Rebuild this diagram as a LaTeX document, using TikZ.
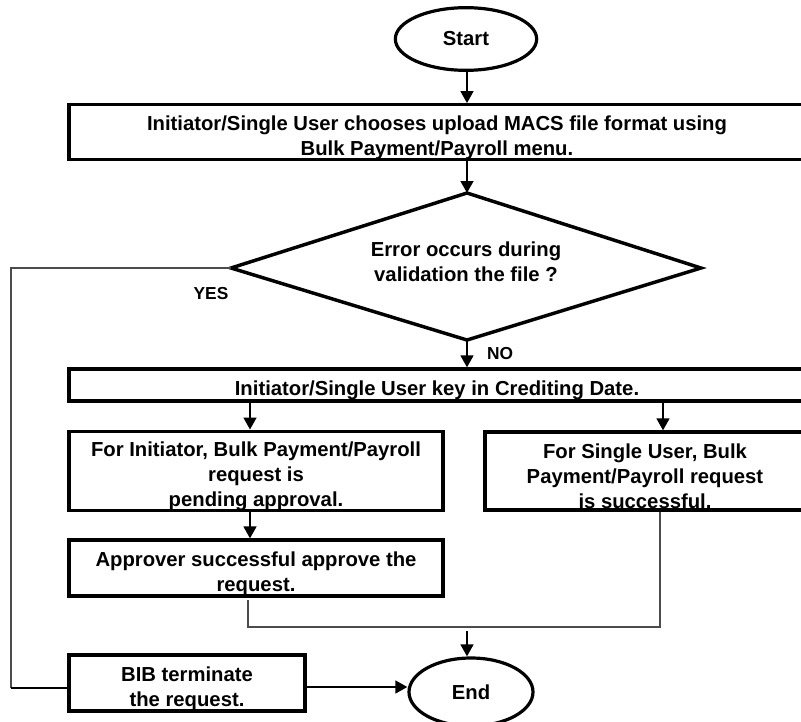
\documentclass[tikz,border=0pt]{standalone}
\usepackage{fontspec}
\setmainfont{Liberation Sans}
\usetikzlibrary{shapes.geometric,arrows.meta}
\newcommand\topstrutx{\rule{0pt}{19pt}}
\begin{document}
\begin{tikzpicture}[x=0.75pt,y=-0.75pt,
  every node/.style={font=\bfseries\fontsize{15.2pt}{18.75pt}\selectfont,align=center,inner sep=0pt},
  procbox/.style={draw,line width=2.4pt,rectangle},
  term/.style={draw,line width=2.4pt,ellipse},
  decis/.style={draw,line width=2.6pt,line join=miter},
  arr/.style={line width=1.8pt,-{Triangle[width=9.5pt,length=9pt]}},
  thin/.style={line width=1.1pt,draw=black!70},
  lbl/.style={font=\bfseries\fontsize{13pt}{15pt}\selectfont}]
\useasboundingbox (0,0) rectangle (801,722);
\node[term,minimum width=106pt,minimum height=47pt] (start) at (466,39) {Start};
\node[procbox,minimum width=552pt,minimum height=40.5pt] (b1) at (437,132) {\topstrutx Initiator/Single User chooses upload MACS file format using\\Bulk Payment/Payroll menu.};
% decision diamond
\coordinate (dn) at (467,193);
\coordinate (ds) at (467,340);
\coordinate (dw) at (231,268);
\coordinate (de) at (701,268);
\draw[decis] (dn) -- (de) -- (ds) -- (dw) -- cycle;
\node (d) at (466,262) {Error occurs during\\validation the file ?};
\node[procbox,minimum width=552pt,minimum height=24pt] (b2) at (437,385) {\topstrutx Initiator/Single User key in Crediting Date.};
\node[procbox,minimum width=280.5pt,minimum height=58.5pt] (b3) at (256,471) {\topstrutx For Initiator, Bulk Payment/Payroll\\request is\\pending approval.};
\node[procbox,minimum width=240pt,minimum height=58.5pt] (b4) at (645,471) {\topstrutx For Single User, Bulk\\Payment/Payroll request\\is successful.};
\node[procbox,minimum width=280.5pt,minimum height=42pt] (b5) at (256,568) {\topstrutx Approver successful approve the\\request.};
\node[procbox,minimum width=177pt,minimum height=42pt] (bib) at (187,683) {\topstrutx BIB terminate\\the request.};
\node[term,minimum width=93pt,minimum height=51pt] (end) at (471,692) {End};
\node[lbl] (yes) at (211,294) {YES};
\node[lbl] (no) at (500,354) {NO};
\draw[arr] (start.south -| 467,0) -- (b1.north -| 467,0);
\draw[arr] (b1.south -| 467,0) -- (dn);
\draw[arr] (ds) -- (b2.north -| 467,0);
\draw[arr] (b2.south -| 250,0) -- (b3.north -| 250,0);
\draw[arr] (b2.south -| 663,0) -- (b4.north -| 663,0);
\draw[arr] (b3.south -| 250,0) -- (b5.north -| 250,0);
\coordinate (m1) at (248,600);
\coordinate (m2) at (248,627);
\coordinate (m3) at (660,627);
\coordinate (m4) at (467,631);
\draw[thin] (m1) -- (m2) -- (m3) -- (b4.south -| m3);
\draw[arr] (m4) -- (end.north -| m4);
\coordinate (l1) at (11,268);
\coordinate (l2) at (11,688);
\draw[thin] (dw) -- (l1) -- (l2);
\draw[line width=1.8pt] (l2) -- (bib.west |- l2);
\draw[arr] (bib.east |- 0,687) -- (end.west |- 0,687);
\end{tikzpicture}
\end{document}
